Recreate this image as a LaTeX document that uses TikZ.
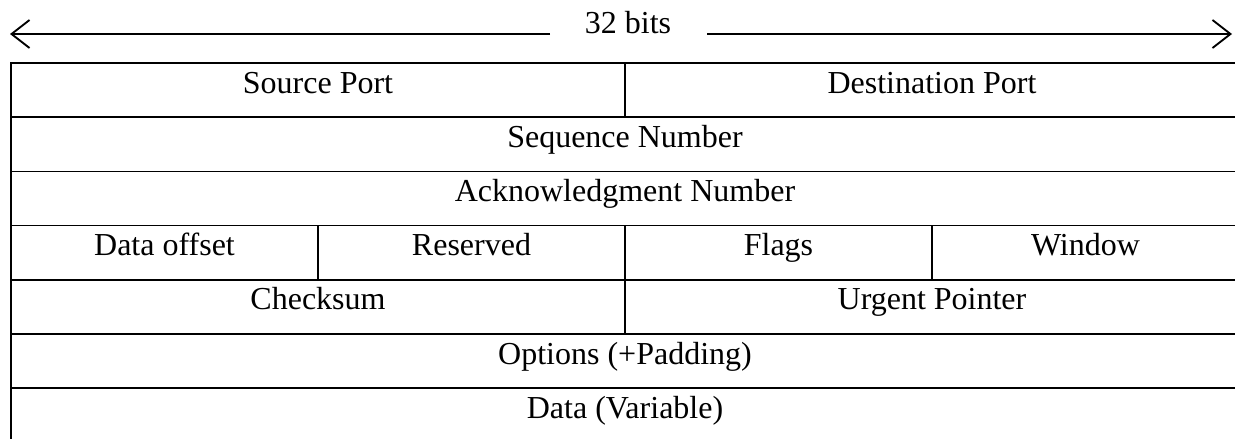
\documentclass[tikz,border=0pt]{standalone}
\usepackage{fontspec}
\setmainfont{Liberation Serif}
\usetikzlibrary{arrows.meta}
\begin{document}
\begin{tikzpicture}[x=0.75pt,y=-0.75pt,
  grid/.style={line width=1.1pt,line cap=rect},
  cell/.style={font=\fontsize{24}{28}\selectfont,inner sep=0pt,anchor=base},
  span/.style={line width=1.4pt,-{Straight Barb[length=13.5pt,width=21pt,line width=1.4pt]}}]
\useasboundingbox (0,0) rectangle (1235,439);
\clip (0,0) rectangle (1235,439);

% width label with its two arrows
\node[cell] (bits) at (628,33) {32 bits};
\coordinate (lend) at (550,34);
\coordinate (rend) at (707,34);
\coordinate (ltip) at (10,34);
\coordinate (rtip) at (1232,34);
\draw[span] (lend) -- (ltip);
\draw[span] (rend) -- (rtip);

% header frame: 4 columns of 307, rows of 54.2
\def\xa{11}\def\xb{318}\def\xc{625}\def\xd{932}\def\xe{1239}
\foreach \r in {0,...,7} {
  \draw[grid] (\xa,63+54.2*\r) -- (\xe,63+54.2*\r);
}
\draw[grid] (\xa,63) -- (\xa,442.4);
\draw[grid] (\xe,63) -- (\xe,442.4);
% inner dividers
\draw[grid] (\xc,63) -- (\xc,117.2);
\draw[grid] (\xb,225.6) -- (\xb,279.8);
\draw[grid] (\xc,225.6) -- (\xc,334);
\draw[grid] (\xd,225.6) -- (\xd,279.8);

% field labels, baseline 30 below each row's top rule
\node[cell] (sport) at (318,93) {Source Port};
\node[cell] (dport) at (932,93) {Destination Port};
\node[cell] (seq) at (625,147.2) {Sequence Number};
\node[cell] (ack) at (625,201.4) {Acknowledgment Number};
\node[cell] (off) at (164.5,255.6) {Data offset};
\node[cell] (res) at (471.5,255.6) {Reserved};
\node[cell] (flags) at (778.5,255.6) {Flags};
\node[cell] (win) at (1085.5,255.6) {Window};
\node[cell] (csum) at (318,309.8) {Checksum};
\node[cell] (urg) at (932,309.8) {Urgent Pointer};
\node[cell] (opt) at (625,364) {Options (+Padding)};
\node[cell] (data) at (625,418.2) {Data (Variable)};
\end{tikzpicture}
\end{document}
